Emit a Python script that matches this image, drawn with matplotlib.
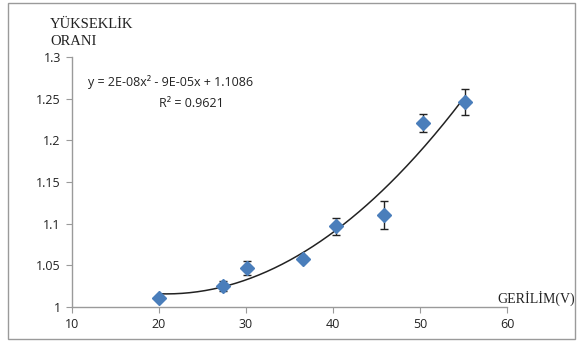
import numpy as np
import matplotlib.pyplot as plt
from matplotlib.patches import Rectangle

# values
gerilim = [20.0, 27.4, 30.1, 36.5, 40.3, 45.9, 50.3, 55.2]
oran = [1.011, 1.025, 1.047, 1.058, 1.097, 1.110, 1.221, 1.246]
hata = [0.0, 0.006, 0.008, 0.003, 0.010, 0.017, 0.011, 0.016]

x_ticks = [10, 20, 30, 40, 50, 60]
y_ticks = [1, 1.05, 1.1, 1.15, 1.2, 1.25, 1.3]
y_tick_labels = ["1", "1.05", "1.1", "1.15", "1.2", "1.25", "1.3"]

denklem = "y = 2E-08x² - 9E-05x + 1.1086"
r_kare = "R² = 0.9621"

W, H = 579, 349
fig = plt.figure(figsize=(W / 100, H / 100), dpi=100)
ax = fig.add_axes([72 / W, 1 - 307 / H, 435 / W, 250 / H])

# outer frame like the excel chart area
fig.patches.append(Rectangle((8 / W, 1 - 339 / H), 567 / W, 336 / H,
                             transform=fig.transFigure, fill=False,
                             edgecolor="#9a9a9a", linewidth=1.0))

# quadratic trendline fitted to the points
katsayi = np.polyfit(gerilim, oran, 2)
xs = np.linspace(min(gerilim), max(gerilim), 200)
ax.plot(xs, np.polyval(katsayi, xs), color="#222222", linewidth=1.1, zorder=2)

ax.errorbar(gerilim, oran, yerr=hata, fmt="D", color="#4a7ebb", markersize=7,
            ecolor="#222222", elinewidth=1.0, capsize=3, capthick=1.0, zorder=3)

ax.set_xlim(10, 60)
ax.set_ylim(1, 1.3)
ax.set_xticks(x_ticks)
ax.set_yticks(y_ticks)
ax.set_yticklabels(y_tick_labels)

for s in ["top", "right"]:
    ax.spines[s].set_visible(False)
for s in ["left", "bottom"]:
    ax.spines[s].set_color("#9a9a9a")
    ax.spines[s].set_linewidth(1.0)

ax.tick_params(axis="both", direction="out", length=4, color="#9a9a9a",
               labelsize=9, labelcolor="#222222", pad=4)
for lab in ax.get_xticklabels() + ax.get_yticklabels():
    lab.set_family("Open Sans")

serif = "Liberation Serif"
fig.text(50 / W, 1 - 33 / H, "YÜKSEKLİK\nORANI", family=serif, fontsize=10.5,
         ha="left", va="center", linespacing=1.4, color="#222222")
fig.text(497 / W, 1 - 298 / H, "GERİLİM(V)", family=serif, fontsize=10,
         ha="left", va="center", color="#222222")

fig.text(88 / W, 1 - 82 / H, denklem, family="Open Sans", fontsize=9,
         ha="left", va="center", color="#222222")
fig.text(191 / W, 1 - 103 / H, r_kare, family="Open Sans", fontsize=9,
         ha="center", va="center", color="#222222")

fig.savefig("out.png", dpi=100)
